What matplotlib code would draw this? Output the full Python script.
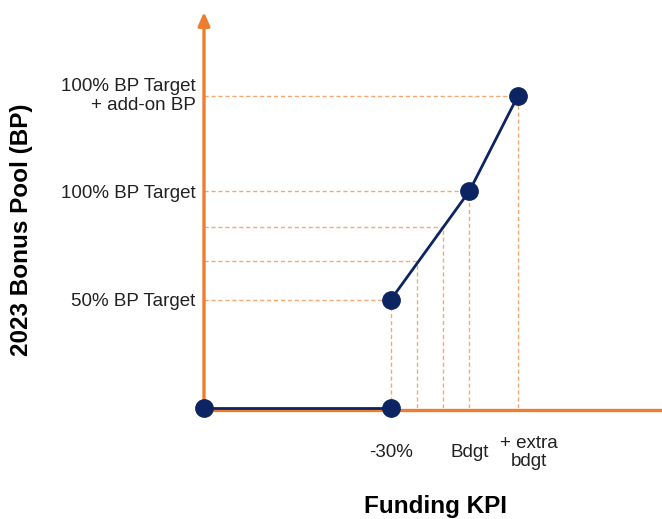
import matplotlib
matplotlib.use("Agg")
import matplotlib.pyplot as plt
from matplotlib.transforms import ScaledTranslation

# Bonus pool curve: funding KPI (x) vs bonus pool level (y)
# flat part (no pool below the -30% threshold) and the rising part
flat_kpi = [0, 50]
flat_pool = [0, 0]
rise_kpi = [50, 71, 84]
rise_pool = [50, 100, 144]

# Extra guide levels between the 50% and 100% points
guide_kpi = [57, 64]
guide_pool = [67.7, 83.4]

y_tick_pos = [50, 100, 144]
y_tick_labels = ["50% BP Target", "100% BP Target", "100% BP Target\n+ add-on BP"]

x_label_pos = [50, 71, 84]
x_label_text = ["-30%", "Bdgt", "+ extra\nbdgt"]

ORANGE = "#ED7D31"
GUIDE = "#F5A872"
NAVY = "#0D2462"
TEXT = "#222222"

plt.rcParams["font.family"] = ["Liberation Sans", "DejaVu Sans"]

fig = plt.figure(figsize=(6.62, 5.19), dpi=100)
ax = fig.add_axes([204 / 662, 111 / 519, 458 / 662, 396 / 519])
ax.set_xlim(0, 122.5)
ax.set_ylim(0, 182.5)
for s in ax.spines.values():
    s.set_visible(False)

# dashed guides from the axes to each point of the rising part
guides_x = rise_kpi + guide_kpi
guides_y = rise_pool + guide_pool
for gx, gy in zip(guides_x, guides_y):
    ax.plot([0, gx], [gy, gy], color=GUIDE, lw=1.0, ls=(0, (3, 2)), zorder=1)
    ax.plot([gx, gx], [0, gy], color=GUIDE, lw=1.0, ls=(0, (3, 2)), zorder=1)

# axes drawn as thick orange lines, arrow on the vertical one
ax.plot([0, 122.5], [-0.8, -0.8], color=ORANGE, lw=2.4, clip_on=False,
        zorder=2, solid_capstyle="butt")
ax.annotate("", xy=(0, 182.5), xytext=(0, -1.4),
            arrowprops=dict(arrowstyle="-|>,head_width=0.35,head_length=0.8",
                            color=ORANGE, lw=2.4, shrinkA=0, shrinkB=0),
            annotation_clip=False, zorder=2)

# the curve
for xs, ys in [(flat_kpi, flat_pool), (rise_kpi, rise_pool)]:
    ax.plot(xs, ys, color=NAVY, lw=2.0, marker="o", markersize=12.5,
            clip_on=False, zorder=3)

ax.set_yticks(y_tick_pos)
ax.set_yticklabels(y_tick_labels, fontsize=13.5, color=TEXT,
                   multialignment="right")
ax.tick_params(axis="y", length=0, pad=6)
ax.set_xticks([])
top_lbl = ax.get_yticklabels()[2]
top_lbl.set_transform(top_lbl.get_transform()
                      + ScaledTranslation(0, 3 / 100, fig.dpi_scale_trans))

offsets = [(0, -32), (0, -32), (8, -32)]
for xp, txt, off in zip(x_label_pos, x_label_text, offsets):
    ax.annotate(txt, xy=(xp, 0), xytext=off, textcoords="offset points",
                ha="center", va="center", fontsize=13.5, color=TEXT,
                annotation_clip=False, linespacing=1.1)

fig.text(22 / 662, 1 - 230 / 519, "2023 Bonus Pool (BP)", rotation=90,
         ha="center", va="center", fontsize=17.5, fontweight="bold")
fig.text(435 / 662, 1 - 506 / 519, "Funding KPI", ha="center", va="center",
         fontsize=17.5, fontweight="bold")

fig.savefig("out.png", dpi=100)
